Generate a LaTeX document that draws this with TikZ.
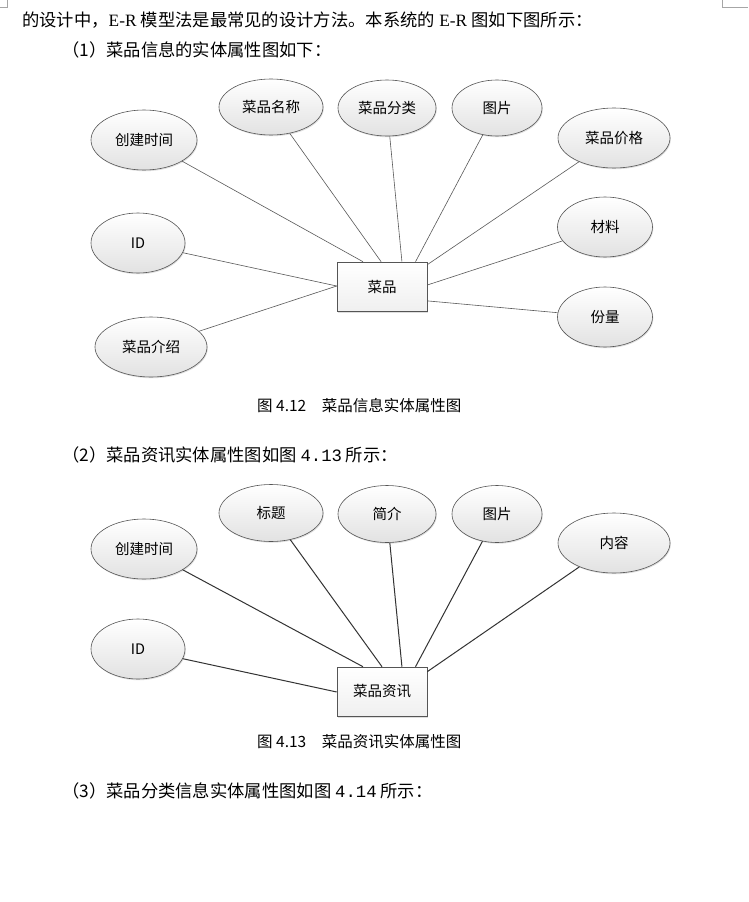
\documentclass[tikz,border=0pt]{standalone}
\usepackage{fontspec}
\setmainfont{Liberation Serif}
\newfontfamily\cjk{Noto Sans CJK SC}
\newfontfamily\dig{Liberation Mono}
\usetikzlibrary{calc,shapes.geometric,shadows}
\definecolor{edge}{HTML}{555555}
\definecolor{attrtop}{HTML}{FFFFFF}
\definecolor{attrbot}{HTML}{E2E2E2}
\tikzset{
  attr/.style={ellipse, draw=edge, line width=0.6pt, top color=attrtop, bottom color=attrbot,
    drop shadow={shadow xshift=0.8pt, shadow yshift=-1.2pt, fill=black!25},
    inner sep=0pt, font=\cjk\fontsize{14.5}{16}\selectfont},
  entity/.style={rectangle, draw=edge, line width=0.6pt, top color=white, bottom color=black!6,
    drop shadow={shadow xshift=1.2pt, shadow yshift=-1.5pt, fill=black!25},
    inner sep=0pt, font=\cjk\fontsize{14.5}{16}\selectfont},
  link/.style={draw=black!65, line width=0.6pt},
  linkb/.style={draw=black!80, line width=1pt},
  body/.style={anchor=base west, inner sep=0pt, font=\fontsize{17.3}{20}\selectfont},
  caption/.style={anchor=base west, inner sep=0pt, font=\cjk\fontsize{15.5}{18}\selectfont},
  cornermark/.style={draw=black!35, line width=0.6pt}
}
\begin{document}
\begin{tikzpicture}[x=1pt,y=-1pt]
\useasboundingbox (0,0) rectangle (748,902);
\fill[white] (0,0) rectangle (748,902);
% page corner marks
\coordinate (m1) at (0,7); \coordinate (m2) at (7,7); \coordinate (m3) at (7,0);
\draw[cornermark] (m1) -- (m2) -- (m3);
\coordinate (m4) at (722,0); \coordinate (m5) at (722,7); \coordinate (m6) at (748,7);
\draw[cornermark] (m4) -- (m5) -- (m6);

% text lines
\node[body] (t1) at (22,27) {{\cjk 的设计中，}E-R {\cjk 模型法是最常见的设计方法。本系统的} E-R {\cjk 图如下图所示：}};
\node[body] (t2) at (62,56) {\cjk （1）菜品信息的实体属性图如下：};

% ---------- diagram 1 ----------
\node[entity, minimum width=90pt, minimum height=49pt] (r1) at (382,286.5) {菜品};
\node[attr, minimum width=106pt, minimum height=60pt] (a1) at (144,140) {创建时间};
\node[attr, minimum width=104pt, minimum height=56pt] (a2) at (271,107) {菜品名称};
\node[attr, minimum width=98pt, minimum height=56pt] (a3) at (387,108) {菜品分类};
\node[attr, minimum width=90pt, minimum height=56pt] (a4) at (497,108) {图片};
\node[attr, minimum width=112pt, minimum height=60pt] (a5) at (614,138) {菜品价格};
\node[attr, minimum width=95pt, minimum height=60pt] (a6) at (605,227) {材料};
\node[attr, minimum width=95pt, minimum height=60pt] (a7) at (605,317) {份量};
\node[attr, minimum width=94pt, minimum height=60pt] (a8) at (138,243) {ID};
\node[attr, minimum width=112pt, minimum height=60pt] (a9) at (151,347) {菜品介绍};

\coordinate (p1) at ($(r1.north west)!0.29!(r1.north east)$);
\coordinate (p2) at ($(r1.north west)!0.49!(r1.north east)$);
\coordinate (p3) at ($(r1.north west)!0.72!(r1.north east)$);
\coordinate (p4) at ($(r1.north west)!0.87!(r1.north east)$);
\coordinate (p5) at ($(r1.north east)!0.06!(r1.south east)$);
\coordinate (p6) at ($(r1.north east)!0.47!(r1.south east)$);
\coordinate (p7) at ($(r1.north east)!0.79!(r1.south east)$);
\coordinate (p8) at ($(r1.north west)!0.49!(r1.south west)$);
\draw[link] (a1) -- (p1);
\draw[link] (a2) -- (p2);
\draw[link] (a3) -- (p3);
\draw[link] (a4) -- (p4);
\draw[link] (a5) -- (p5);
\draw[link] (a6) -- (p6);
\draw[link] (a7) -- (p7);
\draw[link] (a8) -- (p8);
\draw[link] (a9) -- (p8);

\node[caption] (c1) at (257,411) {图 4.12\hspace{1em}菜品信息实体属性图};
\node[body] (t3) at (62,461) {\cjk （2）菜品资讯实体属性图如图 {\dig 4.13} 所示：};

% ---------- diagram 2 ----------
\node[entity, minimum width=90pt, minimum height=49pt] (r2) at (382,691.5) {菜品资讯};
\node[attr, minimum width=106pt, minimum height=60pt] (b1) at (144,549) {创建时间};
\node[attr, minimum width=104pt, minimum height=57pt] (b2) at (271,513) {标题};
\node[attr, minimum width=98pt, minimum height=57pt] (b3) at (387,514) {简介};
\node[attr, minimum width=90pt, minimum height=57pt] (b4) at (497,514) {图片};
\node[attr, minimum width=112pt, minimum height=60pt] (b5) at (614,543) {内容};
\node[attr, minimum width=94pt, minimum height=60pt] (b6) at (138,649) {ID};

\coordinate (q1) at ($(r2.north west)!0.29!(r2.north east)$);
\coordinate (q2) at ($(r2.north west)!0.50!(r2.north east)$);
\coordinate (q3) at ($(r2.north west)!0.72!(r2.north east)$);
\coordinate (q4) at ($(r2.north west)!0.87!(r2.north east)$);
\coordinate (q5) at ($(r2.north east)!0.10!(r2.south east)$);
\coordinate (q6) at ($(r2.north west)!0.51!(r2.south west)$);
\draw[linkb] (b1) -- (q1);
\draw[linkb] (b2) -- (q2);
\draw[linkb] (b3) -- (q3);
\draw[linkb] (b4) -- (q4);
\draw[linkb] (b5) -- (q5);
\draw[linkb] (b6) -- (q6);

\node[caption] (c2) at (257,747) {图 4.13\hspace{1em}菜品资讯实体属性图};
\node[body] (t4) at (62,797) {\cjk （3）菜品分类信息实体属性图如图 {\dig 4.14} 所示：};
\end{tikzpicture}
\end{document}
